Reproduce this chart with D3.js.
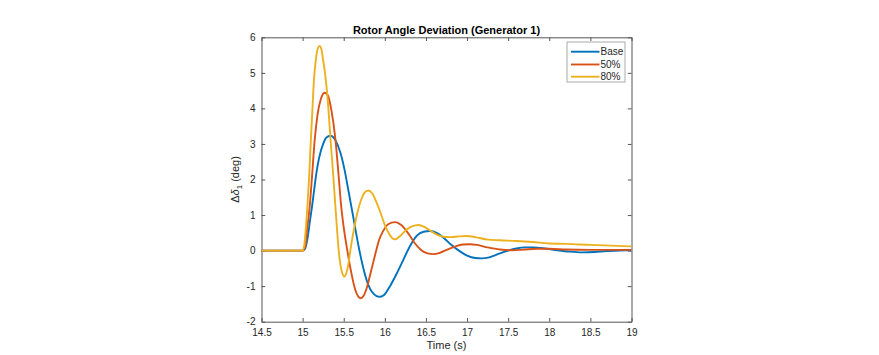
<!DOCTYPE html>
<html>
<head>
<meta charset="utf-8">
<script src="https://cdn.jsdelivr.net/npm/d3@7"></script>
<style>
  html, body { margin: 0; padding: 0; background: #fff; }
  text { font-family: Arial, "Liberation Sans", Helvetica, sans-serif; }
</style>
</head>
<body>
<svg id="chart" width="879" height="355"></svg>
<script>
// ---- data (time in s, deviation in deg) ----
const seriesNames = ["Base", "50%", "80%"];
const seriesColors = ["#0072BD", "#D95319", "#EDB120"];

const base = [
  [14.5, 0], [15.0, 0], [15.03, 0.05], [15.06, 0.35], [15.09, 0.85], [15.114, 1.23], [15.14, 1.7],
  [15.167, 2.17], [15.2, 2.6], [15.25, 3.0], [15.29, 3.18], [15.338, 3.23], [15.4, 3.1],
  [15.46, 2.75], [15.512, 2.25], [15.56, 1.65], [15.6, 1.15], [15.65, 0.5], [15.7, -0.1],
  [15.75, -0.6], [15.8, -0.97], [15.85, -1.18], [15.9, -1.28], [15.94, -1.3], [15.99, -1.25],
  [16.063, -1.0], [16.15, -0.62], [16.225, -0.26], [16.3, 0.1], [16.39, 0.42], [16.47, 0.53],
  [16.55, 0.55], [16.63, 0.5], [16.72, 0.35], [16.8, 0.18], [16.9, 0.0], [17.0, -0.14],
  [17.1, -0.21], [17.18, -0.22], [17.27, -0.19], [17.4, -0.08], [17.5, 0.0], [17.6, 0.06],
  [17.7, 0.09], [17.8, 0.09], [17.95, 0.06], [18.1, 0.01], [18.25, -0.03], [18.4, -0.05],
  [18.55, -0.04], [18.7, -0.01], [18.85, 0.0], [19.0, 0.01]
];

const pct50 = [
  [14.5, 0], [15.0, 0], [15.03, 0.1], [15.06, 0.7], [15.086, 1.23], [15.115, 2.1], [15.147, 3.11],
  [15.18, 3.8], [15.22, 4.25], [15.27, 4.44], [15.31, 4.35], [15.35, 3.95], [15.4, 3.11],
  [15.44, 2.05], [15.47, 1.23], [15.5, 0.65], [15.544, 0.0], [15.59, -0.6], [15.64, -1.1],
  [15.68, -1.3], [15.707, -1.34], [15.74, -1.28], [15.78, -1.05], [15.83, -0.6], [15.895, 0.0],
  [15.93, 0.3], [15.98, 0.55], [16.04, 0.74], [16.124, 0.8], [16.2, 0.72], [16.28, 0.5],
  [16.36, 0.22], [16.44, 0.02], [16.52, -0.08], [16.59, -0.1], [16.66, -0.07], [16.76, 0.03],
  [16.86, 0.12], [16.95, 0.17], [17.036, 0.18], [17.12, 0.16], [17.25, 0.09], [17.4, 0.03],
  [17.55, 0.01], [17.7, 0.03], [17.85, 0.05], [18.0, 0.05], [18.2, 0.03], [18.5, 0.02],
  [19.0, 0.02]
];

const pct80 = [
  [14.5, 0], [15.0, 0], [15.02, 0.15], [15.04, 0.65], [15.058, 1.23], [15.08, 2.1], [15.098, 3.0],
  [15.12, 4.0], [15.138, 4.8], [15.16, 5.35], [15.18, 5.65], [15.207, 5.76], [15.23, 5.65],
  [15.25, 5.35], [15.275, 4.95], [15.31, 4.1], [15.34, 3.11], [15.37, 2.2], [15.397, 1.3],
  [15.42, 0.55], [15.437, 0.05], [15.46, -0.4], [15.485, -0.65], [15.507, -0.73], [15.53, -0.65],
  [15.555, -0.4], [15.58, 0.0], [15.62, 0.55], [15.67, 1.1], [15.72, 1.48], [15.76, 1.65],
  [15.8, 1.69], [15.85, 1.6], [15.9, 1.35], [15.95, 1.05], [16.0, 0.72], [16.05, 0.48],
  [16.09, 0.35], [16.124, 0.32], [16.19, 0.42], [16.26, 0.58], [16.33, 0.68], [16.408, 0.72],
  [16.48, 0.67], [16.56, 0.55], [16.64, 0.44], [16.71, 0.39], [16.8, 0.38], [16.9, 0.4],
  [16.995, 0.41], [17.1, 0.38], [17.25, 0.31], [17.4, 0.29], [17.6, 0.27], [17.8, 0.24],
  [18.0, 0.2], [18.21, 0.19], [18.5, 0.16], [18.75, 0.14], [19.0, 0.12]
];

const xTicks = [14.5, 15, 15.5, 16, 16.5, 17, 17.5, 18, 18.5, 19];
const yTicks = [-2, -1, 0, 1, 2, 3, 4, 5, 6];
const xDomain = [14.5, 19];
const yDomain = [-2, 6];

// ---- layout ----
const svg = d3.select("#chart");
const L = 261.5, R = 631.5, T = 37.3, B = 321.7;
const x = d3.scaleLinear().domain(xDomain).range([L, R]);
const y = d3.scaleLinear().domain(yDomain).range([B, T]);
const axisColor = "#555";
const tickLen = 3.7;

svg.append("rect").attr("width", 879).attr("height", 355).attr("fill", "#fff");

const defs = svg.append("defs");
defs.append("clipPath").attr("id", "plotclip")
  .append("rect").attr("x", L).attr("y", T).attr("width", R - L).attr("height", B - T);

// axes with inward ticks on all four sides
const fmt = d => String(d);
const gx = svg.append("g").attr("transform", `translate(0,${B})`)
  .call(d3.axisBottom(x).tickValues(xTicks).tickFormat(fmt).tickSizeInner(-tickLen).tickSizeOuter(0).tickPadding(7));
const gxt = svg.append("g").attr("transform", `translate(0,${T})`)
  .call(d3.axisTop(x).tickValues(xTicks).tickFormat("").tickSizeInner(-tickLen).tickSizeOuter(0));
const gy = svg.append("g").attr("transform", `translate(${L},0)`)
  .call(d3.axisLeft(y).tickValues(yTicks).tickFormat(fmt).tickSizeInner(-tickLen).tickSizeOuter(0).tickPadding(6));
const gyr = svg.append("g").attr("transform", `translate(${R},0)`)
  .call(d3.axisRight(y).tickValues(yTicks).tickFormat("").tickSizeInner(-tickLen).tickSizeOuter(0));

[gx, gxt, gy, gyr].forEach(g => {
  g.select(".domain").attr("stroke", axisColor).attr("stroke-width", 1);
  g.selectAll(".tick line").attr("stroke", axisColor).attr("stroke-width", 1);
  g.selectAll(".tick text").attr("fill", "#262626").attr("font-size", "10px")
    .attr("font-family", "Arial, 'Liberation Sans', sans-serif");
});
// shift x tick labels so the first and last remain placed as in reference
gx.selectAll(".tick text").attr("dy", "0.71em");

// lines
const line = d3.line().x(d => x(d[0])).y(d => y(d[1])).curve(d3.curveMonotoneX);
const plot = svg.append("g").attr("clip-path", "url(#plotclip)");
[base, pct50, pct80].forEach((s, i) => {
  plot.append("path").datum(s).attr("d", line)
    .attr("fill", "none").attr("stroke", seriesColors[i]).attr("stroke-width", 1.9)
    .attr("stroke-linejoin", "round");
});

// title
svg.append("text").attr("x", (L + R) / 2).attr("y", 34).attr("text-anchor", "middle")
  .attr("font-size", "11px").attr("font-weight", "bold").attr("fill", "#000")
  .text("Rotor Angle Deviation (Generator 1)");

// x label
svg.append("text").attr("x", (L + R) / 2).attr("y", 349).attr("text-anchor", "middle")
  .attr("font-size", "11px").attr("fill", "#262626").text("Time (s)");

// y label
const yl = svg.append("text").attr("transform", `translate(239,${(T + B) / 2}) rotate(-90)`)
  .attr("text-anchor", "middle").attr("font-size", "11px").attr("fill", "#262626");
yl.append("tspan").text("Δ");
yl.append("tspan").attr("font-style", "italic").text("δ");
yl.append("tspan").attr("font-size", "8px").attr("dy", "3").text("1");
yl.append("tspan").attr("dy", "-3").text(" (deg)");

// legend
const lg = svg.append("g");
const lgX = 567, lgY = 42, lgW = 58, lgH = 40;
lg.append("rect").attr("x", lgX).attr("y", lgY).attr("width", lgW).attr("height", lgH)
  .attr("fill", "#fff").attr("stroke", "#aaa").attr("stroke-width", 1);
const rowY = [51.7, 64.5, 76.7];
seriesNames.forEach((n, i) => {
  lg.append("line").attr("x1", 571).attr("x2", 599.5).attr("y1", rowY[i]).attr("y2", rowY[i])
    .attr("stroke", seriesColors[i]).attr("stroke-width", 1.9);
  lg.append("text").attr("x", 600.5).attr("y", rowY[i]).attr("dy", "0.35em")
    .attr("font-size", "10px").attr("fill", "#262626").text(n);
});
</script>
</body>
</html>
